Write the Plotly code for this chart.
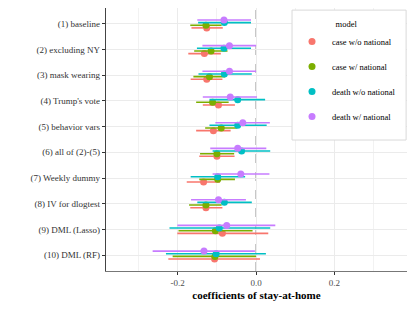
import plotly.graph_objects as go

categories = ["(1) baseline", "(2) excluding NY", "(3) mask wearing", "(4) Trump's vote",
              "(5) behavior vars", "(6) all of (2)-(5)", "(7) Weekly dummy",
              "(8) IV for dlogtest", "(9) DML (Lasso)", "(10) DML (RF)"]

series_names = ["case w/o national", "case w/ national", "death w/o national", "death w/ national"]
colors = ["#F8766D", "#7CAE00", "#00BFC4", "#C77CFF"]

case_wo_est = [-0.126, -0.132, -0.126, -0.096, -0.109, -0.100, -0.134, -0.128, -0.086, -0.106]
case_wo_lo  = [-0.165, -0.173, -0.167, -0.136, -0.153, -0.145, -0.177, -0.168, -0.201, -0.224]
case_wo_hi  = [-0.085, -0.090, -0.086, -0.054, -0.065, -0.055, -0.092, -0.086, 0.031, 0.010]

case_w_est = [-0.128, -0.115, -0.119, -0.111, -0.089, -0.100, -0.098, -0.128, -0.104, -0.105]
case_w_lo  = [-0.168, -0.158, -0.160, -0.153, -0.130, -0.143, -0.145, -0.171, -0.198, -0.213]
case_w_hi  = [-0.088, -0.073, -0.079, -0.070, -0.048, -0.056, -0.054, -0.088, -0.009, 0.000]

death_wo_est = [-0.081, -0.082, -0.081, -0.047, -0.047, -0.037, -0.098, -0.081, -0.094, -0.102]
death_wo_lo  = [-0.148, -0.151, -0.147, -0.119, -0.119, -0.111, -0.167, -0.150, -0.221, -0.230]
death_wo_hi  = [-0.013, -0.013, -0.011, 0.023, 0.027, 0.036, -0.028, -0.011, 0.036, 0.025]

death_w_est = [-0.082, -0.068, -0.068, -0.066, -0.034, -0.047, -0.039, -0.096, -0.075, -0.133]
death_w_lo  = [-0.150, -0.137, -0.137, -0.136, -0.104, -0.117, -0.111, -0.166, -0.201, -0.264]
death_w_hi  = [-0.013, 0.000, 0.000, 0.002, 0.035, 0.026, 0.034, -0.026, 0.049, -0.003]

x_ticks = [-0.2, 0.0, 0.2]
x_tick_labels = ["-0.2", "0.0", "0.2"]

est = [case_wo_est, case_w_est, death_wo_est, death_w_est]
lo = [case_wo_lo, case_w_lo, death_wo_lo, death_w_lo]
hi = [case_wo_hi, case_w_hi, death_wo_hi, death_w_hi]
offsets = [0.155, 0.052, -0.052, -0.155]

serif = "Liberation Serif"
fig = go.Figure()
for i in range(4):
    ys = [k + 1 + offsets[i] for k in range(len(categories))]
    fig.add_trace(go.Scatter(
        x=est[i], y=ys, mode="markers", name=series_names[i],
        legendgroup="g%d" % i,
        marker=dict(color=colors[i], size=7),
        error_x=dict(type="data", symmetric=False,
                     array=[h - e for h, e in zip(hi[i], est[i])],
                     arrayminus=[e - l for e, l in zip(est[i], lo[i])],
                     color=colors[i], thickness=1.6, width=0),
    ))

fig.add_shape(type="line", x0=0, x1=0, y0=0, y1=1, xref="x", yref="paper",
              line=dict(color="#999999", width=1.3, dash="dash"), layer="below")
# legend box
fig.add_shape(type="rect", xref="paper", yref="paper", x0=0.618, x1=0.997, y0=0.498, y1=0.992,
              fillcolor="white", line=dict(color="#D9D9D9", width=1), layer="above")

fig.update_layout(
    width=407, height=304,
    margin=dict(l=98, r=8, t=0, b=41, autoexpand=False),
    paper_bgcolor="white", plot_bgcolor="white",
    font=dict(family=serif, color="#333333"),
    xaxis=dict(range=[-0.383, 0.385], tickvals=x_ticks, ticktext=x_tick_labels,
               automargin=False,
               showgrid=True, gridcolor="#EBEBEB", gridwidth=1,
               minor=dict(tickvals=[-0.3, -0.1, 0.1, 0.3], showgrid=True,
                          gridcolor="#F2F2F2", gridwidth=0.6),
               ticks="outside", ticklen=3, tickcolor="#333333",
               tickfont=dict(size=9, family=serif, color="#4D4D4D"),
               showline=True, linecolor="#777777", linewidth=1.2, mirror=True,
               zeroline=False,
               title=dict(text="<b>coefficients of stay-at-home</b>",
                          font=dict(size=11, family=serif, color="black"), standoff=4)),
    yaxis=dict(range=[10.62, 0.38], tickvals=list(range(1, 11)), ticktext=categories,
               automargin=False,
               showgrid=True, gridcolor="#EBEBEB", gridwidth=1,
               ticks="outside", ticklen=3, tickcolor="#333333",
               tickfont=dict(size=9, family=serif, color="#333333"),
               showline=True, linecolor="#444444", linewidth=1.2, mirror=True,
               zeroline=False),
    legend=dict(x=0.618, y=0.970, xanchor="left", yanchor="top",
                bgcolor="rgba(0,0,0,0)", borderwidth=0,
                font=dict(size=8.5, family=serif, color="black"),
                title=dict(text="model", side="top center",
                           font=dict(size=8.5, family=serif, color="black")),
                traceorder="grouped", tracegroupgap=6, itemwidth=30),
    showlegend=True,
)

fig.write_html("out.html")
